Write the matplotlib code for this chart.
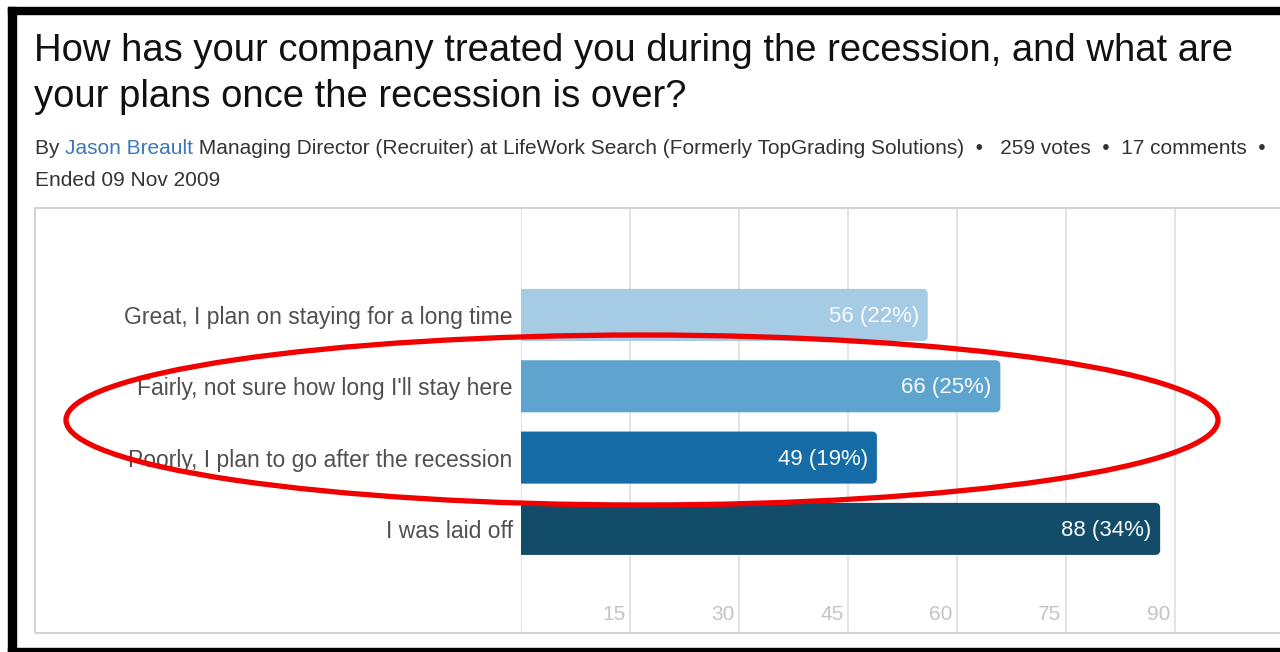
"""Poll results bar chart: how companies treated employees during the recession."""

import matplotlib.pyplot as plt
from matplotlib.patches import FancyBboxPatch, Rectangle, Ellipse

# poll answers, top to bottom
answers = [
    "Great, I plan on staying for a long time",
    "Fairly, not sure how long I'll stay here",
    "Poorly, I plan to go after the recession",
    "I was laid off",
]
votes = [56, 66, 49, 88]
shares = [22, 25, 19, 34]
bar_colors = ["#a6cbe4", "#5fa4cf", "#166ca7", "#134c68"]
tick_values = [15, 30, 45, 60, 75, 90]

title_lines = [
    "How has your company treated you during the recession, and what are",
    "your plans once the recession is over?",
]
byline_parts = [
    ("By ", "#333333"),
    ("Jason Breault", "#3d78b8"),
    (" Managing Director (Recruiter) at LifeWork Search (Formerly TopGrading Solutions)"
     "  \u2022   259 votes  \u2022  17 comments  \u2022", "#333333"),
]
ended_text = "Ended 09 Nov 2009"

W, H = 1280, 652
XMAX = 104.5
plt.rcParams["font.family"] = ["Liberation Sans", "DejaVu Sans"]

fig = plt.figure(figsize=(W / 100, H / 100), dpi=100)
fig.patch.set_facecolor("white")


def fx(px):
    return px / W


def fy(py):
    # py measured from the top edge
    return 1 - py / H


# black frame (top, left, bottom)
fig.patches.append(Rectangle((fx(8), fy(14)), 1, fy(7) - fy(14), transform=fig.transFigure,
                             color="black", zorder=0))
fig.patches.append(Rectangle((fx(8), 0), fx(8), fy(7), transform=fig.transFigure,
                             color="black", zorder=0))
fig.patches.append(Rectangle((fx(8), 0), 1, fy(648), transform=fig.transFigure,
                             color="black", zorder=0))

# title
for i, line in enumerate(title_lines):
    fig.text(fx(34), fy(51 + 46 * i), line, fontsize=27.5, color="#111111",
             ha="left", va="center")

# byline with the author name in link colour
fig.canvas.draw()
renderer = fig.canvas.get_renderer()
x = fx(35)
for text, color in byline_parts:
    t = fig.text(x, fy(149), text, fontsize=15, color=color, ha="left", va="center")
    bb = t.get_window_extent(renderer)
    x += bb.width / W
fig.text(fx(35), fy(180), ended_text, fontsize=15, color="#333333", ha="left", va="center")

# chart frame
fig.patches.append(Rectangle((fx(35), fy(633)), 1, fy(208) - fy(633), transform=fig.transFigure,
                             facecolor="none", edgecolor="#d4d4d4", lw=1.5, zorder=1))

# plotting area: x from zero gridline to right edge
ax = fig.add_axes([fx(521), fy(633), 1 - fx(521), fy(208) - fy(633)])
ax.set_facecolor("none")
ax.set_xlim(0, XMAX)
ax.set_ylim(3 + 1.46, -1.5)

ypos = list(range(len(answers)))
bars = ax.barh(ypos, votes, height=0.73, color=bar_colors, alpha=0)

# rounded right ends; the left rounding falls below zero and is clipped away
px_per_x = (W - 521) / XMAX
px_per_y = (633 - 208) / 5.96
r = 5 / px_per_x
for bar, color in zip(bars, bar_colors):
    x0, y0 = bar.get_x(), bar.get_y()
    w, h = bar.get_width(), bar.get_height()
    ax.add_patch(FancyBboxPatch((x0 - 2 * r, y0), w + 2 * r, h,
                                boxstyle=f"round,pad=0,rounding_size={r}",
                                mutation_aspect=px_per_x / px_per_y,
                                facecolor=color, edgecolor="none", zorder=3))

for y, v, s in zip(ypos, votes, shares):
    ax.text(v - 1.2, y + 0.02, f"{v} ({s}%)", color="#f8fbfd", fontsize=16,
            ha="right", va="center", zorder=4)

ax.set_yticks(ypos)
ax.set_yticklabels(answers, fontsize=16.5, color="#505050")
ax.tick_params(axis="y", length=0, pad=6)

ax.set_xticks([0] + tick_values)
ax.tick_params(axis="x", length=0)
ax.set_xticklabels([])
ax.grid(axis="x", color="#dedede", lw=1.2, zorder=0)
for v in tick_values:
    ax.text(v - 0.6, 4.2, str(v), color="#c4c4c4", fontsize=15,
            ha="right", va="center", zorder=2)
for side in ax.spines.values():
    side.set_visible(False)

# red highlight ring around the middle answers
fig.patches.append(Ellipse((fx(642), fy(420)), fx(1152), 170 / H, transform=fig.transFigure,
                           facecolor="none", edgecolor="#f00000", lw=3.8, zorder=10))

fig.savefig("out.png", dpi=100)
